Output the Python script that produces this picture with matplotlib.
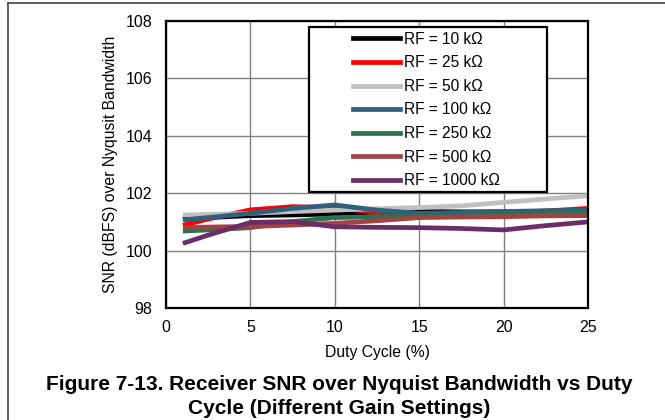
import matplotlib
matplotlib.use("Agg")
import matplotlib.pyplot as plt
from matplotlib.lines import Line2D
from matplotlib.patches import Rectangle

plt.rcParams["font.family"] = ["Liberation Sans", "DejaVu Sans"]

duty = [1, 2.5, 5, 7.5, 10, 12.5, 15, 17.5, 20, 22.5, 25]
labels = ["RF = 10 kΩ", "RF = 25 kΩ", "RF = 50 kΩ", "RF = 100 kΩ",
          "RF = 250 kΩ", "RF = 500 kΩ", "RF = 1000 kΩ"]
snr_10k = [101.12, 101.15, 101.22, 101.24, 101.28, 101.34, 101.36, 101.35, 101.35, 101.37, 101.38]
snr_25k = [100.88, 101.10, 101.42, 101.53, 101.50, 101.33, 101.25, 101.28, 101.30, 101.38, 101.47]
snr_50k = [101.24, 101.26, 101.30, 101.36, 101.41, 101.46, 101.50, 101.56, 101.68, 101.80, 101.91]
snr_100k = [101.07, 101.15, 101.30, 101.47, 101.59, 101.41, 101.30, 101.33, 101.36, 101.39, 101.41]
snr_250k = [100.68, 100.72, 100.80, 101.01, 101.15, 101.18, 101.20, 101.23, 101.25, 101.30, 101.33]
snr_500k = [100.80, 100.82, 100.84, 100.89, 100.95, 101.04, 101.15, 101.17, 101.18, 101.21, 101.22]
snr_1000k = [100.25, 100.54, 100.98, 101.01, 100.83, 100.81, 100.80, 100.77, 100.72, 100.87, 101.00]
colors = ["#000000", "#ff0000", "#c0c0c0", "#2f607c",
          "#2e7150", "#a24343", "#6b2c68"]

series = [snr_10k, snr_25k, snr_50k, snr_100k, snr_250k, snr_500k, snr_1000k]

fig = plt.figure(figsize=(6.65, 4.2), dpi=100)
ax = fig.add_axes([166 / 665, 1 - 308 / 420, 422 / 665, 287 / 420])

for vals, col in zip(series, colors):
    ax.plot(duty, vals, color=col, lw=3.4, solid_capstyle="butt",
            solid_joinstyle="round")

ax.set_xlim(0, 25)
ax.set_ylim(98, 108)
ax.set_xticks(range(0, 26, 5))
ax.set_yticks(range(98, 109, 2))
ax.grid(True, color="#808080", lw=1.0)
ax.set_axisbelow(True)
ax.tick_params(length=0, labelsize=11.5)
ax.tick_params(axis="x", pad=9)
ax.tick_params(axis="y", pad=10)
for sp in ax.spines.values():
    sp.set_linewidth(1.6)
    sp.set_color("black")

ax.set_xlabel("Duty Cycle (%)", fontsize=11.3, labelpad=7)
ax.set_ylabel("SNR (dBFS) over Nyqusit Bandwidth", fontsize=11.3, labelpad=5)

# legend: white box with the entries centred inside it
box = Rectangle(((309 - 166) / 422, (308 - 192) / 287), 238 / 422, 165 / 287,
                transform=ax.transAxes, facecolor="white", edgecolor="black",
                lw=1.6, zorder=5)
ax.add_patch(box)
handles = [Line2D([0], [0], color=c, lw=3.4) for c in colors]
leg = ax.legend(handles, labels, loc="center left", frameon=False, fontsize=11.2,
                bbox_to_anchor=((353 - 166) / 422, (308 - 110) / 287),
                handlelength=3.0, handletextpad=0.25, labelspacing=0.55,
                borderpad=0, borderaxespad=0)
leg.set_zorder(6)

fig.text(0.51, 1 - 385 / 420,
         "Figure 7-13. Receiver SNR over Nyquist Bandwidth vs Duty",
         ha="center", va="center", fontsize=15, fontweight="bold")
fig.text(0.51, 1 - 408 / 420, "Cycle (Different Gain Settings)",
         ha="center", va="center", fontsize=15, fontweight="bold")

# page frame
fig.add_artist(Line2D([8 / 665, 8 / 665], [0, 1 - 3 / 420], color="#404040", lw=1.2))
fig.add_artist(Line2D([8 / 665, 1], [1 - 3 / 420, 1 - 3 / 420], color="#404040", lw=1.2))

fig.savefig("out.png", dpi=100)
